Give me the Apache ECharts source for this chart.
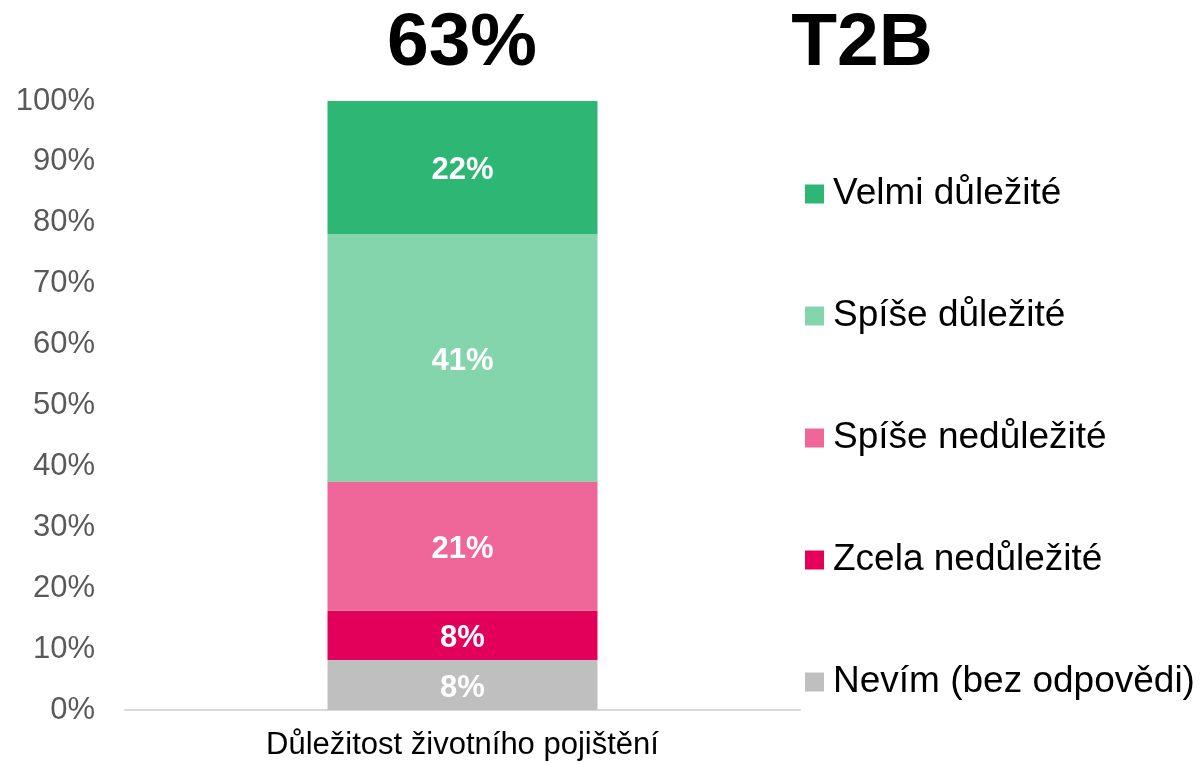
<!DOCTYPE html>
<html>
<head>
<meta charset="utf-8">
<title>Důležitost životního pojištění</title>
<script src="https://cdn.jsdelivr.net/npm/echarts@6/dist/echarts.min.js"></script>
<style>
  html, body { margin: 0; padding: 0; background: #fff; }
  #chart { width: 1202px; height: 764px; }
</style>
</head>
<body>
<div id="chart"></div>
<script>
// data, bottom to top of the stack
const categories = ['Důležitost životního pojištění']
const seriesNames = ['Nevím (bez odpovědi)', 'Zcela nedůležité', 'Spíše nedůležité', 'Spíše důležité', 'Velmi důležité']
const seriesValues = [8.2, 8.1, 21.2, 40.6, 21.9]
const seriesColors = ['#bfbfbf', '#e3005a', '#ef6799', '#84d5ab', '#2eb674']
const t2bValue = '63%'
const t2bLabel = 'T2B'

const font = 'Liberation Sans, Arial, sans-serif'

let dom = echarts.init(document.getElementById('chart'))

let series = seriesNames.map((name, i) => {
  return {
    name: name,
    type: 'bar',
    stack: 'total',
    barWidth: '40%',
    itemStyle: { color: seriesColors[i] },
    label: {
      show: true,
      position: 'inside',
      offset: [0, 3],
      color: '#fff',
      fontFamily: font,
      fontWeight: 'bold',
      fontSize: 31,
      formatter: p => Math.round(p.value) + '%'
    },
    emphasis: { disabled: true },
    data: [seriesValues[i]]
  }
})

let option = {
  animation: false,
  textStyle: { fontFamily: font },
  grid: { left: 125, right: 402, top: 101, bottom: 54, containLabel: false },
  graphic: [
    {
      type: 'text',
      x: 462, y: 44,
      style: { text: t2bValue, font: 'bold 75px ' + font, fill: '#000', align: 'center', verticalAlign: 'middle' }
    },
    {
      type: 'text',
      x: 862, y: 44,
      style: { text: t2bLabel, font: 'bold 75px ' + font, fill: '#000', align: 'center', verticalAlign: 'middle' }
    }
  ],
  legend: {
    orient: 'vertical',
    left: 800,
    top: 169,
    icon: 'rect',
    itemWidth: 19,
    itemHeight: 19,
    itemGap: 82,
    selectedMode: false,
    data: seriesNames.slice().reverse(),
    textStyle: { fontSize: 37, lineHeight: 40, color: '#000', fontFamily: font, padding: [0, 0, 0, 4] }
  },
  xAxis: {
    type: 'category',
    data: categories,
    axisLine: { lineStyle: { color: '#d9d9d9', width: 2 } },
    axisTick: { show: false },
    axisLabel: { color: '#000', fontSize: 31, margin: 20, fontFamily: font }
  },
  yAxis: {
    type: 'value',
    min: 0,
    max: 100,
    interval: 10,
    splitLine: { show: false },
    axisLine: { show: false },
    axisTick: { show: false },
    axisLabel: { color: '#595959', fontSize: 31, margin: 30, fontFamily: font, formatter: '{value}%' }
  },
  series: series
}

dom.setOption(option)
</script>
</body>
</html>
